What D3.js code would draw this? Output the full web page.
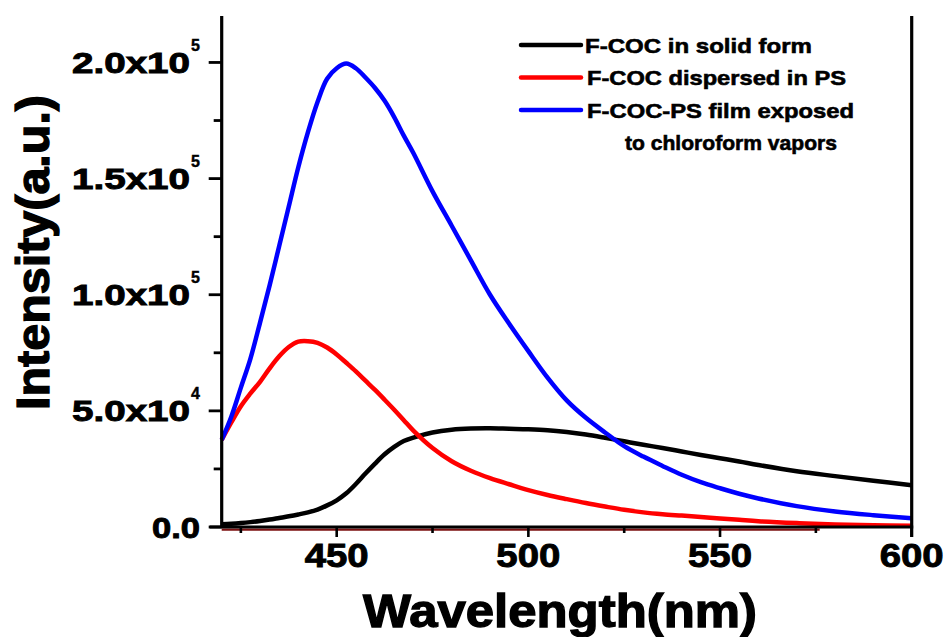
<!DOCTYPE html>
<html>
<head>
<meta charset="utf-8">
<script src="https://cdn.jsdelivr.net/npm/d3@7"></script>
<style>
  body { margin: 0; background: #fff; }
  text { font-family: "Liberation Sans", Arial, sans-serif; font-weight: bold; fill: #000; stroke: #000; }
</style>
</head>
<body>
<svg width="946" height="637"></svg>
<script>
const svg = d3.select("svg");

// wavelength grid (nm)
const wavelength = [420, 422.5, 425, 427.5, 430, 432.5, 435, 437.5, 440, 442.5, 445, 447.5,
  450, 452.5, 455, 457.5, 460, 462.5, 465, 467.5, 470, 475, 480, 485, 490, 495, 500,
  505, 510, 515, 520, 525, 530, 535, 540, 545, 550, 555, 560, 570, 580, 590, 600];

const solidForm = [1200, 1400, 1700, 2100, 2600, 3200, 3900, 4600, 5400, 6300, 7500, 9300,
  11500, 14500, 18500, 23000, 27300, 31300, 34500, 37000, 38500, 40700, 41900, 42400, 42500, 42300, 42100,
  41700, 40900, 39800, 38400, 36900, 35400, 34000, 32500, 31000, 29600, 28200, 26700, 24000, 21900, 19900, 18000];

const dispersedPS = [37500, 45000, 52000, 57500, 62500, 68300, 73500, 77500, 79800, 80000, 79300, 77300,
  74300, 70700, 67000, 63000, 59000, 54800, 50500, 46000, 41500, 34000, 28300, 24200, 21000, 18400, 15900,
  13800, 12000, 10300, 8800, 7400, 6300, 5500, 4900, 4300, 3700, 3100, 2500, 1700, 1100, 800, 500];

const exposedFilm = [37500, 47500, 60000, 72500, 88000, 104000, 121000, 138000, 155000, 170000, 183000, 193000,
  197500, 199500, 197500, 193500, 189000, 183500, 176500, 168500, 161000, 144500, 129700, 114800, 100000, 87500, 75700,
  64300, 54500, 47000, 40700, 34800, 30300, 26300, 22500, 19300, 16700, 14300, 12300, 9000, 6700, 5100, 3800];

const seriesNames = ["F-COC in solid form", "F-COC dispersed in PS", "F-COC-PS film exposed"];
const seriesColors = ["#000000", "#ff0000", "#0000ff"];
const seriesValues = [solidForm, dispersedPS, exposedFilm];

const xTicks = [450, 500, 550, 600];
const xMinorTicks = [425, 475, 525, 575];
const yTicks = [0, 50000, 100000, 150000, 200000];
const yMinorTicks = [25000, 75000, 125000, 175000];
const yTickMantissa = ["0.0", "5.0x10", "1.0x10", "1.5x10", "2.0x10"];
const yTickExp = ["", "4", "5", "5", "5"];

const x = d3.scaleLinear().domain([420, 600]).range([221.7, 911.7]);
const y = d3.scaleLinear().domain([0, 220000]).range([527, 16]);

// curves
const line = d3.line()
  .x(d => x(d[0]))
  .y(d => y(d[1]))
  .curve(d3.curveCatmullRom);

seriesValues.forEach((vals, i) => {
  svg.append("path")
    .datum(wavelength.map((w, j) => [w, vals[j]]))
    .attr("fill", "none")
    .attr("stroke", seriesColors[i])
    .attr("stroke-width", 4.5)
    .attr("stroke-linejoin", "round")
    .attr("d", line);
});

// dark baseline under the axis
svg.append("line")
  .attr("x1", x(420)).attr("x2", x(576))
  .attr("y1", y(0) + 2.6).attr("y2", y(0) + 2.6)
  .attr("stroke", "#7b1111").attr("stroke-width", 2.2);

// axes
const axisG = svg.append("g");
axisG.append("line")
  .attr("x1", x(420) - 12).attr("x2", x(600) + 1.5)
  .attr("y1", y(0)).attr("y2", y(0))
  .attr("stroke", "#000").attr("stroke-width", 3.2);
axisG.append("line")
  .attr("x1", x(420)).attr("x2", x(420))
  .attr("y1", y(220000)).attr("y2", y(0))
  .attr("stroke", "#000").attr("stroke-width", 3.2);
axisG.append("line")
  .attr("x1", x(600)).attr("x2", x(600))
  .attr("y1", y(220000)).attr("y2", y(0) + 10)
  .attr("stroke", "#000").attr("stroke-width", 3.2);

axisG.selectAll(".xmaj").data(xTicks).join("line")
  .attr("x1", d => x(d)).attr("x2", d => x(d))
  .attr("y1", y(0)).attr("y2", y(0) + 10)
  .attr("stroke", "#000").attr("stroke-width", 2.6);
axisG.selectAll(".xmin").data(xMinorTicks).join("line")
  .attr("x1", d => x(d)).attr("x2", d => x(d))
  .attr("y1", y(0)).attr("y2", y(0) + 6)
  .attr("stroke", "#000").attr("stroke-width", 2.6);
axisG.selectAll(".ymaj").data(yTicks).join("line")
  .attr("x1", x(420) - 13).attr("x2", x(420))
  .attr("y1", d => y(d)).attr("y2", d => y(d))
  .attr("stroke", "#000").attr("stroke-width", 2.8);
axisG.selectAll(".ymin").data(yMinorTicks).join("line")
  .attr("x1", x(420) - 8).attr("x2", x(420))
  .attr("y1", d => y(d)).attr("y2", d => y(d))
  .attr("stroke", "#000").attr("stroke-width", 2.8);

// x tick labels
svg.selectAll(".xlab").data(xTicks).join("text")
  .attr("x", d => x(d)).attr("y", 567)
  .attr("text-anchor", "middle")
  .attr("font-size", 33).attr("stroke-width", 0.9)
  .attr("textLength", 64).attr("lengthAdjust", "spacingAndGlyphs")
  .text(d => d);

// y tick labels
yTicks.forEach((v, i) => {
  const ty = y(v);
  if (yTickExp[i] === "") {
    svg.append("text")
      .attr("x", 200).attr("y", ty + 10.5)
      .attr("text-anchor", "end").attr("font-size", 29).attr("stroke-width", 0.9)
      .attr("textLength", 48).attr("lengthAdjust", "spacingAndGlyphs")
      .text(yTickMantissa[i]);
  } else {
    svg.append("text")
      .attr("x", 190).attr("y", ty + 10.5)
      .attr("text-anchor", "end").attr("font-size", 29).attr("stroke-width", 0.9)
      .attr("textLength", 118).attr("lengthAdjust", "spacingAndGlyphs")
      .text(yTickMantissa[i]);
    svg.append("text")
      .attr("x", 191).attr("y", ty - 11.5)
      .attr("font-size", 16).attr("stroke-width", 0.4)
      .text(yTickExp[i]);
  }
});

// axis titles
svg.append("text")
  .attr("x", 560).attr("y", 626.7)
  .attr("text-anchor", "middle").attr("font-size", 46.5).attr("stroke-width", 1.3)
  .attr("textLength", 394).attr("lengthAdjust", "spacingAndGlyphs")
  .text("Wavelength(nm)");

svg.append("text")
  .attr("transform", "translate(49,252.5) rotate(-90)")
  .attr("text-anchor", "middle").attr("font-size", 46).attr("stroke-width", 1.3)
  .attr("textLength", 315).attr("lengthAdjust", "spacingAndGlyphs")
  .text("Intensity(a.u.)");

// legend
const legendY = [45, 77.5, 110];
const legendLen = [227, 259, 267];
const lg = svg.append("g");
seriesNames.forEach((name, i) => {
  lg.append("line")
    .attr("x1", 521).attr("x2", 581)
    .attr("y1", legendY[i]).attr("y2", legendY[i])
    .attr("stroke", seriesColors[i]).attr("stroke-width", 4.5)
    .attr("stroke-linecap", "round");
  lg.append("text")
    .attr("x", i === 0 ? 585 : 587).attr("y", legendY[i] + 7.6)
    .attr("font-size", 21).attr("stroke-width", 0.6)
    .attr("textLength", legendLen[i]).attr("lengthAdjust", "spacingAndGlyphs")
    .text(name);
});
lg.append("text")
  .attr("x", 625).attr("y", 142.5 + 7.6)
  .attr("font-size", 21).attr("stroke-width", 0.6)
  .attr("textLength", 212).attr("lengthAdjust", "spacingAndGlyphs")
  .text("to chloroform vapors");
</script>
</body>
</html>
